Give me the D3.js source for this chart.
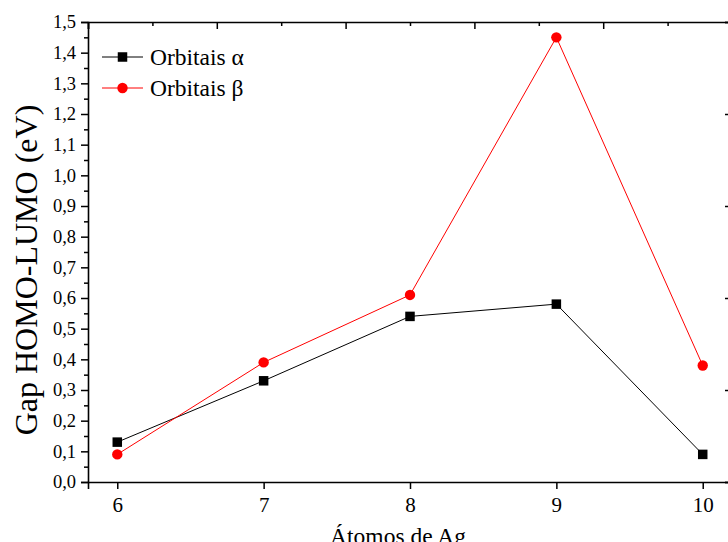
<!DOCTYPE html>
<html>
<head>
<meta charset="utf-8">
<script src="https://cdn.jsdelivr.net/npm/d3@7"></script>
<style>
  html, body { margin: 0; padding: 0; background: #fff; overflow: hidden; }
  svg { display: block; }
</style>
</head>
<body>
<svg id="chart" width="728" height="542"></svg>
<script>
// Number of Ag atoms in the cluster
const atoms = [6, 7, 8, 9, 10];
// HOMO-LUMO gap (eV) for alpha and beta spin orbitals
const gapAlpha = [0.13, 0.33, 0.54, 0.58, 0.09];
const gapBeta  = [0.09, 0.39, 0.61, 1.45, 0.38];
// Axis ticks
const xTicks = [6, 7, 8, 9, 10];
const yTicks = [0, 0.1, 0.2, 0.3, 0.4, 0.5, 0.6, 0.7, 0.8, 0.9, 1.0, 1.1, 1.2, 1.3, 1.4, 1.5];
const seriesNames = ["Orbitais \u03b1", "Orbitais \u03b2"];

const labelFont = "'Liberation Serif'";
const svg = d3.select("#chart");
const frame = { left: 88, right: 732, top: 22, bottom: 482 };

const x = d3.scaleLinear().domain([5.8, 10.2]).range([frame.left, frame.right]);
const y = d3.scaleLinear().domain([0, 1.5]).range([frame.bottom, frame.top]);

const fmt = d => d3.format(".1f")(d).replace(".", ",");
const axisW = 1.6;

// Bottom axis
const gx = svg.append("g").attr("transform", `translate(0,${frame.bottom})`)
  .call(d3.axisBottom(x).tickValues(xTicks).tickSize(7).tickPadding(8).tickFormat(d3.format("d")));
gx.selectAll("text").style("font-size", "21px");

// Left axis, major + minor ticks
const gy = svg.append("g").attr("transform", `translate(${frame.left},0)`)
  .call(d3.axisLeft(y).tickValues(yTicks).tickSize(7).tickPadding(5).tickFormat(fmt));
gy.selectAll("text").style("font-size", "18.5px");
const yMinor = yTicks.slice(0, -1).map(d => d + 0.05);
svg.append("g").attr("transform", `translate(${frame.left},0)`)
  .call(d3.axisLeft(y).tickValues(yMinor).tickSize(4).tickFormat(""))
  .select(".domain").remove();

// Top frame axis with inward ticks
const topMajor = d3.range(6).map(i => 5.8 + i * 0.88);
const topMinor = d3.range(5).map(i => 5.8 + 0.44 + i * 0.88);
svg.append("g").attr("transform", `translate(0,${frame.top})`)
  .call(d3.axisTop(x).tickValues(topMajor).tickSize(-7).tickFormat(""));
svg.append("g").attr("transform", `translate(0,${frame.top})`)
  .call(d3.axisTop(x).tickValues(topMinor).tickSize(-4).tickFormat(""))
  .select(".domain").remove();

// Right frame axis with inward ticks
svg.append("g").attr("transform", `translate(${frame.right},0)`)
  .call(d3.axisRight(y).tickValues([0, 0.3, 0.6, 0.9, 1.2, 1.5]).tickSize(-7).tickFormat(""));

svg.selectAll(".domain").attr("stroke-width", axisW).attr("stroke", "#000");
svg.selectAll(".tick line").attr("stroke-width", 1.5).attr("stroke", "#000");
svg.selectAll("g").attr("font-family", null);

// Series
const line = d3.line().x(d => x(d[0])).y(d => y(d[1]));
const alphaPts = atoms.map((a, i) => [a, gapAlpha[i]]);
const betaPts = atoms.map((a, i) => [a, gapBeta[i]]);

svg.append("path").datum(alphaPts).attr("d", line)
  .attr("fill", "none").attr("stroke", "#000").attr("stroke-width", 1);
svg.append("path").datum(betaPts).attr("d", line)
  .attr("fill", "none").attr("stroke", "#ff0000").attr("stroke-width", 1);

const sq = 9.5;
svg.append("g").selectAll("rect").data(alphaPts).join("rect")
  .attr("x", d => x(d[0]) - sq / 2).attr("y", d => y(d[1]) - sq / 2)
  .attr("width", sq).attr("height", sq).attr("fill", "#000");
svg.append("g").selectAll("circle").data(betaPts).join("circle")
  .attr("cx", d => x(d[0])).attr("cy", d => y(d[1])).attr("r", 5.2).attr("fill", "#ff0000");

// Legend
const lg = svg.append("g");
const rows = [
  { name: seriesNames[0], color: "#000", yc: 57, shape: "square" },
  { name: seriesNames[1], color: "#ff0000", yc: 88, shape: "circle" }
];
rows.forEach(r => {
  lg.append("line").attr("x1", 102).attr("x2", 143).attr("y1", r.yc).attr("y2", r.yc)
    .attr("stroke", r.color).attr("stroke-width", 1);
  if (r.shape === "square") {
    lg.append("rect").attr("x", 122.5 - sq / 2).attr("y", r.yc - sq / 2)
      .attr("width", sq).attr("height", sq).attr("fill", r.color);
  } else {
    lg.append("circle").attr("cx", 122.5).attr("cy", r.yc).attr("r", 5.2).attr("fill", r.color);
  }
  lg.append("text").attr("x", 150).attr("y", r.yc + 7.5)
    .style("font-size", "23.5px").text(r.name);
});

// Axis titles
svg.append("text").attr("x", 398).attr("y", 544).attr("text-anchor", "middle")
  .style("font-size", "23.5px").text("\u00c1tomos de Ag");
svg.append("text").attr("transform", "translate(37,270) rotate(-90)").attr("text-anchor", "middle")
  .style("font-size", "32px").text("Gap HOMO-LUMO (eV)");

// Serif face on every label
svg.selectAll("text").style("font-family", labelFont).attr("fill", "#000");
</script>
</body>
</html>
